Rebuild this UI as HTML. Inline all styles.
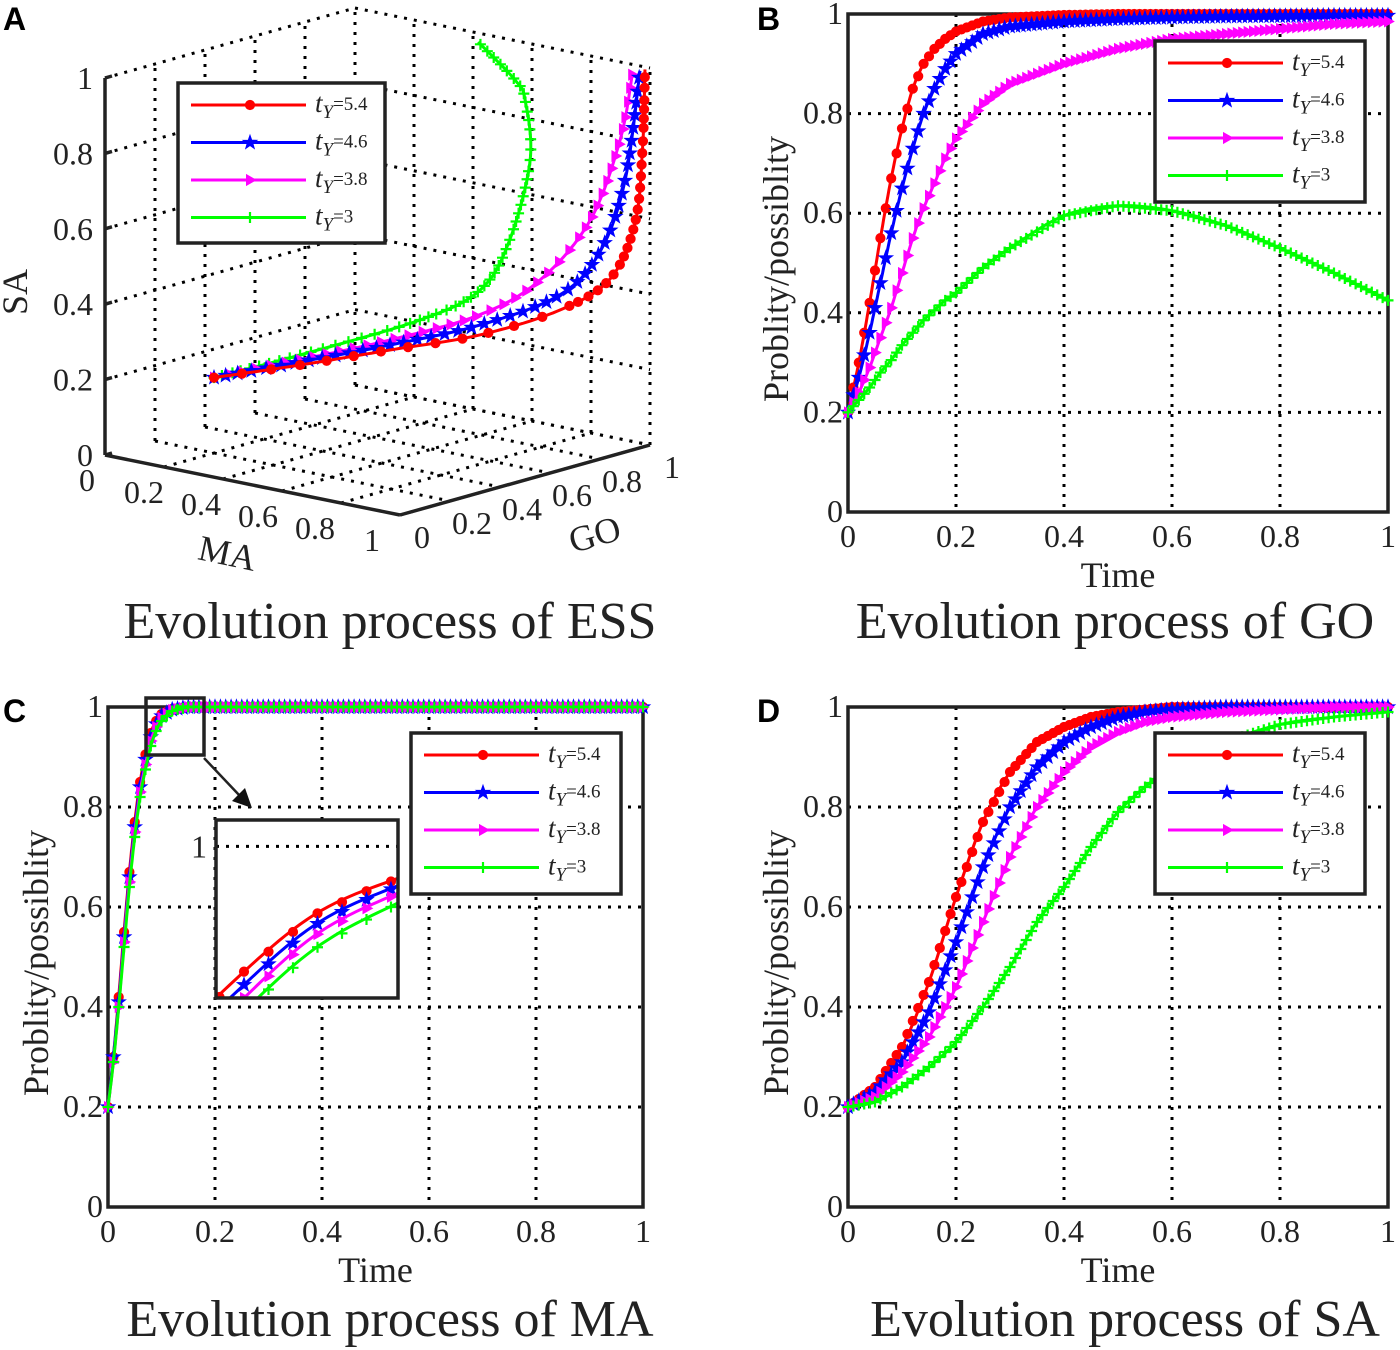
<!DOCTYPE html>
<html><head><meta charset="utf-8"><style>
html,body{margin:0;padding:0;background:#fff;overflow:hidden;}
svg{display:block;font-family:"Liberation Serif",serif;}
</style></head><body>
<svg id="fig" xmlns="http://www.w3.org/2000/svg" width="1400" height="1350" viewBox="0 0 1400 1350"></svg>
<script>
// ---------- DATA ----------
const tickLabels = ['0','0.2','0.4','0.6','0.8','1'];
const tickValues = [0,0.2,0.4,0.6,0.8,1];
const legendLabels = ['=5.4','=4.6','=3.8','=3'];
const seriesNames = ['ty-5.4','ty-4.6','ty-3.8','ty-3'];

// Panel B (GO)
const B_times = [0,0.02,0.04,0.06,0.08,0.1,0.12,0.14,0.16,0.18,0.2,0.25,0.3,0.4,0.5,0.6,0.7,0.8,0.9,1];
const B_red   = [0.2,0.3,0.42,0.55,0.67,0.77,0.85,0.9,0.93,0.95,0.965,0.985,0.993,0.998,1,1,1,1,1,1];
const B_blue  = [0.2,0.27,0.36,0.46,0.56,0.65,0.73,0.8,0.85,0.89,0.92,0.96,0.975,0.985,0.99,0.993,0.995,0.996,0.997,0.997];
const B_mag   = [0.2,0.24,0.29,0.35,0.41,0.48,0.55,0.61,0.66,0.71,0.75,0.82,0.86,0.9,0.93,0.95,0.96,0.97,0.98,0.985];
const B_green = [0.2,0.225,0.25,0.28,0.305,0.335,0.36,0.385,0.405,0.425,0.44,0.49,0.53,0.595,0.615,0.605,0.575,0.53,0.48,0.425];

// Panel C (MA)
const C_times = [0,0.01,0.02,0.03,0.04,0.05,0.06,0.07,0.08,0.09,0.1,0.12,0.15,0.2,1];
const C_red   = [0.2,0.3,0.42,0.55,0.67,0.77,0.85,0.905,0.948,0.972,0.986,0.996,1,1,1];
const C_blue  = [0.2,0.3,0.41,0.54,0.66,0.76,0.84,0.895,0.94,0.966,0.982,0.995,1,1,1];
const C_mag   = [0.2,0.29,0.4,0.53,0.65,0.75,0.83,0.885,0.932,0.96,0.978,0.994,1,1,1];
const C_green = [0.2,0.29,0.4,0.52,0.64,0.74,0.82,0.875,0.922,0.952,0.972,0.992,1,1,1];

// Panel D (SA)
const D_times = [0,0.05,0.1,0.15,0.2,0.25,0.3,0.35,0.4,0.45,0.5,0.55,0.6,0.7,0.8,0.9,1];
const D_red   = [0.2,0.24,0.32,0.45,0.62,0.77,0.87,0.93,0.96,0.98,0.99,0.995,1,1,1,1,1];
const D_blue  = [0.2,0.23,0.29,0.39,0.53,0.68,0.8,0.88,0.93,0.96,0.98,0.99,0.995,1,1,1,1];
const D_mag   = [0.2,0.22,0.27,0.34,0.44,0.57,0.7,0.8,0.87,0.92,0.95,0.97,0.98,0.99,0.995,1,1];
const D_green = [0.2,0.21,0.24,0.28,0.33,0.4,0.48,0.57,0.64,0.72,0.79,0.84,0.88,0.93,0.965,0.98,0.99];

// Panel A (3D: MA, GO, SA)
const A_red_ma = [0.2,0.36,0.537,0.74,0.934,1,1,1,1];
const A_red_go = [0.2,0.355,0.506,0.626,0.718,0.84,0.94,0.97,0.98];
const A_red_sa = [0.2,0.23,0.27,0.32,0.4,0.47,0.6,0.79,1.0];
const A_blue_ma = [0.2,0.365,0.555,0.75,0.96,1,1,1];
const A_blue_go = [0.2,0.349,0.485,0.615,0.686,0.8,0.9,0.96];
const A_blue_sa = [0.2,0.24,0.29,0.35,0.45,0.55,0.72,1.0];
const A_mag_ma = [0.2,0.376,0.546,0.757,0.949,1,1,1];
const A_mag_go = [0.2,0.336,0.496,0.606,0.62,0.76,0.88,0.93];
const A_mag_sa = [0.2,0.25,0.3,0.38,0.5,0.64,0.83,1.0];
const A_green_ma = [0.2,0.369,0.597,0.769,0.872,0.881,0.846,0.74,0.48];
const A_green_go = [0.2,0.345,0.555,0.593,0.59,0.661,0.682,0.767,0.926];
const A_green_sa = [0.2,0.26,0.35,0.45,0.6,0.8,0.95,0.97,1.0];

const COLORS = ['#ff0000','#0000ff','#ff00ff','#00ff00'];
const MARKERS = ['circle','star','tri','plus'];

// ---------- HELPERS ----------
const NS = 'http://www.w3.org/2000/svg';
const svg = document.getElementById('fig');
function mk(parent, tag, attrs){
  const e = document.createElementNS(NS, tag);
  for (const k in attrs) e.setAttribute(k, attrs[k]);
  parent.appendChild(e);
  return e;
}
function grp(parent, name){
  const g = mk(parent,'g',{});
  
  
  return g;
}
function txt(parent, x, y, s, size, anchor, name, extra){
  const t = mk(parent,'text',Object.assign({x:x,y:y,'font-size':size,'text-anchor':anchor||'middle',fill:'#222'},extra||{}));
  t.textContent = s;
  
  
  return t;
}
function spline(pts, n){
  const out=[];
  for(let i=0;i<pts.length-1;i++){
    const p0=pts[Math.max(i-1,0)],p1=pts[i],p2=pts[i+1],p3=pts[Math.min(i+2,pts.length-1)];
    for(let k=0;k<n;k++){
      const t=k/n,t2=t*t,t3=t2*t;
      const f=(a,b,c,d)=>0.5*((2*b)+(-a+c)*t+(2*a-5*b+4*c-d)*t2+(-a+3*b-3*c+d)*t3);
      out.push([f(p0[0],p1[0],p2[0],p3[0]),f(p0[1],p1[1],p2[1],p3[1])]);
    }
  }
  out.push(pts[pts.length-1]);
  return out;
}
function marker(parent, type, x, y, color, s){
  s = s||1;
  let e;
  if(type==='circle'){
    e = mk(parent,'circle',{cx:x,cy:y,r:4.6*s,fill:color,stroke:color,'stroke-width':1});
  } else if(type==='star'){
    let d='';
    for(let i=0;i<10;i++){
      const r=(i%2===0?7.5:3)*s, a=-Math.PI/2+i*Math.PI/5;
      d+=(i?'L':'M')+(x+r*Math.cos(a)).toFixed(1)+' '+(y+r*Math.sin(a)).toFixed(1);
    }
    e = mk(parent,'path',{d:d+'Z',fill:color,stroke:color,'stroke-width':0.8});
  } else if(type==='tri'){
    const r=6*s;
    e = mk(parent,'path',{d:`M${x+r} ${y}L${x-r*0.6} ${y-r*0.9}L${x-r*0.6} ${y+r*0.9}Z`,fill:color,stroke:color,'stroke-width':0.8});
  } else {
    const r=5.5*s;
    e = mk(parent,'path',{d:`M${x-r} ${y}H${x+r}M${x} ${y-r}V${y+r}`,stroke:color,'stroke-width':2.2,fill:'none'});
  }
  
  
  return e;
}
function dotted(parent, x1,y1,x2,y2, name){
  const l = mk(parent,'line',{x1:x1,y1:y1,x2:x2,y2:y2,stroke:'#000','stroke-width':3,'stroke-dasharray':'3 7'});
  
  
  return l;
}
function legend(parent, x, y, w, h, name){
  const g = grp(parent, name);
  const r = mk(g,'rect',{x:x,y:y,width:w,height:h,fill:'#fff',stroke:'#222','stroke-width':3.5});
  
  
  for(let i=0;i<4;i++){
    const e = grp(g, 'legend-entry-'+seriesNames[i]);
    const cy = y+22+i*37.5;
    const l = mk(e,'line',{x1:x+13,y1:cy,x2:x+128,y2:cy,stroke:COLORS[i],'stroke-width':3});
    
    
    marker(e, MARKERS[i], x+72, cy, COLORS[i]);
    const t = mk(e,'text',{x:x+137,y:cy+7,'font-size':22,fill:'#222'});
    
    
    const a = mk(t,'tspan',{'font-style':'italic','font-size':27}); a.textContent='t';
    const b = mk(t,'tspan',{'font-style':'italic','font-size':19,dy:6}); b.textContent='Y';
    const c = mk(t,'tspan',{'font-size':19,dy:-8}); c.textContent=legendLabels[i];
  }
}

// ---------- 2D PANEL ----------
function panel2D(cfg){
  const g = grp(svg, cfg.name);
  const X = t => cfg.x0 + t*(cfg.x1-cfg.x0);
  const Y = v => cfg.yb - v*(cfg.yb-cfg.yt);
  const grid = grp(g, 'grid');
  for(let i=1;i<5;i++){
    dotted(grid, X(tickValues[i]), cfg.yt, X(tickValues[i]), cfg.yb, 'v-gridline');
    dotted(grid, cfg.x0, Y(tickValues[i]), cfg.x1, Y(tickValues[i]), 'h-gridline');
  }
  const box = mk(g,'rect',{x:cfg.x0,y:cfg.yt,width:cfg.x1-cfg.x0,height:cfg.yb-cfg.yt,fill:'none',stroke:'#222','stroke-width':3.5});
  
  
  const ticks = grp(g,'tick-labels');
  for(let i=0;i<6;i++){
    txt(ticks, X(tickValues[i]), cfg.yb+35, tickLabels[i], 32, 'middle', 'x-tick-label');
    txt(ticks, cfg.x0-5, Y(tickValues[i])+10, tickLabels[i], 32, 'end', 'y-tick-label');
  }
  txt(g, (cfg.x0+cfg.x1)/2, cfg.yb+75, 'Time', 36, 'middle', 'x-axis-title');
  txt(g, 0, 0, 'Problity/possiblity', 36, 'middle', 'y-axis-title', {transform:`translate(${cfg.x0-60},${(cfg.yt+cfg.yb)/2+6}) rotate(-90)`});
  const plot = grp(g,'series');
  drawSeries(plot, cfg.times, cfg.series, X, Y, 0.01, null);
  if(cfg.extra) cfg.extra(g, X, Y);
  legend(g, cfg.lx, cfg.ly, 210, 161, 'legend');
  txt(g, cfg.titleX, cfg.titleY, cfg.title, 52, 'middle', 'panel-title');
}
function interp(times, vals, t){
  for(let i=0;i<times.length-1;i++){
    if(t<=times[i+1]) { const f=(t-times[i])/(times[i+1]-times[i]); return vals[i]+f*(vals[i+1]-vals[i]); }
  }
  return vals[vals.length-1];
}
function drawSeries(parent, times, series, X, Y, step, clip){
  for(let s=0;s<series.length;s++){
    const sg = grp(parent, 'series-'+seriesNames[s]);
    if(clip) sg.setAttribute('clip-path', clip);
    const pts = times.map((t,i)=>[X(t),Y(series[s][i])]);
    const dense = spline(pts, 10);
    const p = mk(sg,'polyline',{points:dense.map(q=>q[0].toFixed(1)+','+q[1].toFixed(1)).join(' '),fill:'none',stroke:COLORS[s],'stroke-width':3});
    
    
    for(let t=0;t<=1.0001;t+=step){
      const v = interp(times, series[s], t);
      marker(sg, MARKERS[s], X(t), Y(v), COLORS[s]);
    }
  }
}

// Panel letters
[['A',3,30],['B',757,30],['C',3,722],['D',757,722]].forEach(a=>{
  txt(svg,a[1],a[2],a[0],32,'start','panel-letter-'+a[0].toLowerCase(),{'font-family':'Liberation Sans, sans-serif','font-weight':'bold',fill:'#000'});
});

panel2D({name:'panel-b-go', x0:848,x1:1388,yb:512,yt:14, times:B_times, series:[B_red,B_blue,B_mag,B_green], lx:1155,ly:41, title:'Evolution process of GO', titleX:1115, titleY:638});
panel2D({name:'panel-d-sa', x0:848,x1:1388,yb:1207,yt:707, times:D_times, series:[D_red,D_blue,D_mag,D_green], lx:1155,ly:733, title:'Evolution process of SA', titleX:1125, titleY:1336});
panel2D({name:'panel-c-ma', x0:108,x1:643,yb:1207,yt:707, times:C_times, series:[C_red,C_blue,C_mag,C_green], lx:411,ly:733, title:'Evolution process of MA', titleX:390, titleY:1336,
  extra:function(g,X,Y){
    const zb = mk(g,'rect',{x:146,y:698,width:58,height:57,fill:'none',stroke:'#222','stroke-width':3.5});
    
    
    const ar = mk(g,'line',{x1:204,y1:758,x2:240,y2:796,stroke:'#222','stroke-width':2.5});
    
    
    const ah = mk(g,'path',{d:'M252 808 L232 801 L245 788 Z',fill:'#111'});
    
    
    const ig = grp(g,'inset');
    const bg = mk(ig,'rect',{x:216,y:820,width:182,height:178,fill:'#fff'});
    
    
    const defs = mk(ig,'defs',{});
    const cp = mk(defs,'clipPath',{id:'insetclip'});
    mk(cp,'rect',{x:216,y:820,width:182,height:178});
    const IX = t => 216 + (t-0.066)/(0.092-0.066)*182;
    const IY = v => 998 - (v-0.885)/(1.02-0.885)*178;
    dotted(ig, 216, IY(1), 398, IY(1), 'inset-gridline');
    txt(ig, 207, IY(1)+11, '1', 32, 'end', 'inset-tick-label');
    drawSeries(ig, C_times, [C_red,C_blue,C_mag,C_green], IX, IY, 0.0035, 'url(#insetclip)');
    const ib = mk(ig,'rect',{x:216,y:820,width:182,height:178,fill:'none',stroke:'#222','stroke-width':3.5});
    
    
  }});

// ---------- PANEL A (3D) ----------
(function(){
  const g = grp(svg,'panel-a-ess');
  const P = (m,go,s) => [105 + m*295 + go*250, 455 + m*60 - go*70 - s*377];
  const grid = grp(g,'grid-3d');
  for(let i=0;i<6;i++){
    const v=tickValues[i];
    let a=P(0,0,v), b=P(0,1,v); if(i>0) dotted(grid,a[0],a[1],b[0],b[1],'wall-gridline');
    a=P(0,v,0); b=P(0,v,1); if(i>0) dotted(grid,a[0],a[1],b[0],b[1],'wall-gridline');
    a=P(0,1,v); b=P(1,1,v); dotted(grid,a[0],a[1],b[0],b[1],'wall-gridline');
    a=P(v,1,0); b=P(v,1,1); dotted(grid,a[0],a[1],b[0],b[1],'wall-gridline');
    a=P(v,0,0); b=P(v,1,0); if(i>0) dotted(grid,a[0],a[1],b[0],b[1],'floor-gridline');
    a=P(0,v,0); b=P(1,v,0); if(i>0) dotted(grid,a[0],a[1],b[0],b[1],'floor-gridline');
  }
  const ax = grp(g,'axes-3d');
  const axisLine=(p,q,name)=>{const l=mk(ax,'line',{x1:p[0],y1:p[1],x2:q[0],y2:q[1],stroke:'#222','stroke-width':3.5});};
  axisLine(P(0,0,0),P(0,0,1),'sa-axis');
  axisLine(P(0,0,0),P(1,0,0),'ma-axis');
  axisLine(P(1,0,0),P(1,1,0),'go-axis');
  for(let i=0;i<6;i++){
    const v=tickValues[i];
    let p=P(0,0,v); axisLine(p,[p[0]+7,p[1]-2],'sa-tick');
    txt(ax,p[0]-12,p[1]+11,tickLabels[i],32,'end','sa-tick-label');
    p=P(v,0,0);
    txt(ax,p[0]-18+i*-2,p[1]+36,tickLabels[i],32,'middle','ma-tick-label');
    p=P(1,v,0);
    txt(ax,p[0]+22,p[1]+33,tickLabels[i],32,'middle','go-tick-label');
  }
  txt(ax,0,0,'MA',36,'middle','ma-axis-title',{transform:'translate(225,565) rotate(12)'});
  txt(ax,0,0,'GO',36,'middle','go-axis-title',{transform:'translate(598,546) rotate(-16)'});
  txt(ax,0,0,'SA',36,'middle','sa-axis-title',{transform:'translate(27,292) rotate(-90)'});
  const sets=[[A_red_ma,A_red_go,A_red_sa,26],[A_blue_ma,A_blue_go,A_blue_sa,11],[A_mag_ma,A_mag_go,A_mag_sa,12],[A_green_ma,A_green_go,A_green_sa,8]];
  const sg0 = grp(g,'series-3d');
  [3,2,1,0].forEach(s=>{
    const sg = grp(sg0,'series-'+seriesNames[s]);
    const pts = sets[s][0].map((m,i)=>P(m,sets[s][1][i],sets[s][2][i]));
    const dense = spline(pts, 20);
    const pl = mk(sg,'polyline',{points:dense.map(q=>q[0].toFixed(1)+','+q[1].toFixed(1)).join(' '),fill:'none',stroke:COLORS[s],'stroke-width':3});
    
    
    let acc=0, next=0;
    for(let i=0;i<dense.length;i++){
      if(i>0) acc+=Math.hypot(dense[i][0]-dense[i-1][0],dense[i][1]-dense[i-1][1]);
      if(acc>=next){ marker(sg,MARKERS[s],dense[i][0],dense[i][1],COLORS[s]); next=acc+ (s===0 && dense[i][0]<560 ? sets[s][3] : (s===0?9:sets[s][3])); }
    }
  });
  legend(g,178,83,207,160,'legend');
  txt(g,390,638,'Evolution process of ESS',52,'middle','panel-title');
})();
</script>
</body></html>
